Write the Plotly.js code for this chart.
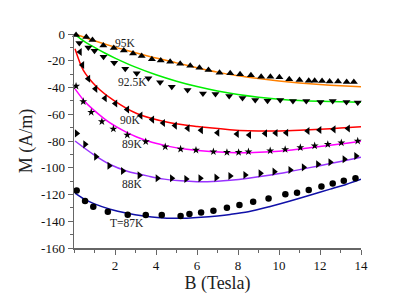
<!DOCTYPE html>
<html>
<head>
<meta charset="utf-8">
<script src="https://cdn.plot.ly/plotly-3.0.1.min.js"></script>
<style>html,body{margin:0;padding:0;background:#fff;}#chart{width:419px;height:298px;}</style>
</head>
<body>
<div id="chart"></div>
<script>
// ---- data ----
// 95 K
const x95 = [0.1,0.6,0.9,1.43,1.94,2.43,2.88,3.3,3.8,4.23,4.69,5.18,5.67,6.12,6.56,7.1,7.62,8.1,8.63,9.13,9.58,10.02,10.5,11.0,11.45,11.74,12.1,12.47,12.88,13.3,13.65];
const y95 = [-0.7,-2.3,-4.4,-8.6,-10.5,-12.4,-14.5,-16.5,-18.9,-19.9,-20.7,-22.2,-23.7,-25.2,-26.9,-28.9,-29.4,-30.1,-30.9,-31.9,-31.9,-32.4,-33.9,-34.4,-34.9,-34.9,-35.1,-35.6,-35.6,-35.9,-35.9];
const fx95 = [0.05,1,2,3,4,5,6,7,8,9,10,11,12,13,14];
const fy95 = [0,-5,-9.8,-14,-18,-21.6,-25.2,-28.5,-31.2,-33.3,-35.1,-36.6,-37.8,-38.7,-39.4];
// 92.5 K
const x925 = [0.26,0.7,1.0,1.44,1.96,2.5,3.06,3.63,4.2,4.77,5.54,6.29,6.9,7.57,8.22,8.84,9.44,10.06,10.68,11.33,12.02,12.62,13.29,13.84];
const y925 = [-6.8,-10.0,-12.5,-17.0,-21.5,-26.0,-29.4,-33.1,-36.0,-39.4,-41.9,-44.4,-44.9,-46.4,-47.9,-49.3,-49.9,-49.3,-50.1,-50.1,-50.8,-50.1,-50.8,-51.3];
const fx925 = [0.05,0.5,1,1.5,2,3,4,5,6,7,8,9,10,11,12,13,14];
const fy925 = [-0.5,-5.5,-10,-14.2,-18,-24.8,-30.5,-35.3,-39.3,-42.6,-45.2,-47.2,-48.7,-49.7,-50.3,-50.7,-51];
// 90 K
const x90 = [0.29,0.41,0.7,1.05,1.51,2.02,2.6,3.25,3.82,4.35,4.93,5.55,6.2,7.0,7.95,8.55,9.33,9.84,10.36,11.4,11.98,12.67,13.37];
const y90 = [-13.5,-23.2,-33.5,-41.0,-48.0,-52.0,-56.5,-61.0,-64.0,-66.5,-68.5,-70.5,-72.0,-73.8,-74.8,-75.5,-74.3,-74.0,-73.8,-72.5,-71.8,-71.3,-70.6];
const fx90 = [0.05,0.45,1.1,1.92,3.06,4.69,6.0,7.6,8.5,10,11,12,13,14];
const fy90 = [-11,-27,-39.4,-49.4,-59.4,-66.4,-69.2,-71.5,-72.3,-72.5,-72,-71.2,-70.3,-69.3];
// 89 K
const x89 = [0.1,0.45,0.84,1.36,1.92,2.6,3.5,4.45,5.2,5.95,6.8,7.46,8.03,8.51,9.57,10.3,11.04,11.74,12.38,13.04,13.84];
const y89 = [-39,-50.5,-58.5,-65.5,-71,-75.5,-80.5,-84.3,-86,-86.8,-88,-88.5,-88.5,-88,-87.3,-86.3,-84.9,-83.6,-82.5,-81.3,-80];
const fx89 = [0.05,0.5,0.94,1.76,2.5,3.06,3.8,4.69,5.5,6.64,7.6,8.5,9.57,10.5,11.5,12.5,13.3,14];
const fy89 = [-41,-50,-56.5,-66.5,-73,-77,-81,-84.2,-86.2,-87.9,-88.6,-88.7,-88.1,-86.9,-85.1,-83.2,-81.6,-80.1];
// 88 K
const x88 = [0.13,0.54,1.07,1.72,2.38,3.19,4.07,4.77,5.47,6.16,6.94,7.62,8.35,9.09,9.77,10.55,11.2,11.9,12.5,13.19,13.76];
const y88 = [-74.3,-82.5,-91.7,-98.5,-102.4,-105.7,-107.9,-107.9,-108.4,-107.9,-107.4,-106.2,-105.4,-104.2,-102.9,-101.7,-99.7,-97.4,-95.9,-93.7,-91.2];
const fx88 = [0.05,0.94,1.76,2.6,3.7,4.4,5.2,6,7,7.62,8.5,9.6,10.5,11.5,12.5,13.3,14];
const fy88 = [-80,-90,-97.6,-102.6,-106.5,-108.5,-109.8,-110.4,-110,-109.3,-107.8,-105.4,-102.9,-99.9,-96.9,-94.4,-92.2];
// 87 K
const x87 = [0.13,0.54,0.94,1.65,2.62,3.5,4.28,5.2,5.63,6.2,6.8,7.46,8.07,8.74,9.49,10.31,10.88,11.45,12.07,12.62,13.16,13.73];
const y87 = [-117,-124.9,-129.1,-132.9,-135.2,-135.4,-135.3,-136,-134.6,-133.4,-132.2,-129.9,-127.9,-125.4,-122.9,-119.9,-118.6,-116.6,-114.1,-111.7,-109.7,-107.9];
const fx87 = [0.05,0.5,1,1.76,2.6,3.4,4.2,4.85,5.5,6.2,7,7.62,8.5,9.57,10.5,11.5,12.5,13.3,14];
const fy87 = [-119,-123.5,-127,-131,-134,-136,-137.3,-137.8,-137.7,-137.1,-136,-134.9,-132.9,-128.9,-125,-120.5,-116,-112.3,-108.6];

const labels = ["95K","92.5K","90K","89K","88K","T=87K"];
const labelX = [2.49,2.85,2.74,2.87,2.87,2.57];
const labelY = [-7,-36,-64,-82.5,-112,-141.6];

const xTicks = [2,4,6,8,10,12,14];
const yTicks = [0,-20,-40,-60,-80,-100,-120,-140,-160];
const yTickText = ["0","-20","-40","-60","-80","-100","-120","-140","-160"];

// ---- styling ----
const serif = "Liberation Serif, Times New Roman, serif";
const sets = [
  {mx:x95, my:y95, fx:fx95, fy:fy95, sym:"triangle-up", size:7, col:"#ff8000"},
  {mx:x925, my:y925, fx:fx925, fy:fy925, sym:"triangle-down", size:7, col:"#00ee00"},
  {mx:x90, my:y90, fx:fx90, fy:fy90, sym:"triangle-left", size:7, col:"#ff0000"},
  {mx:x89, my:y89, fx:fx89, fy:fy89, sym:"star", size:6, col:"#ff00ff"},
  {mx:x88, my:y88, fx:fx88, fy:fy88, sym:"triangle-right", size:7, col:"#9933ff"},
  {mx:x87, my:y87, fx:fx87, fy:fy87, sym:"circle", size:6.5, col:"#1010a8"}
];
const traces = [];
sets.forEach(s => {
  traces.push({x:s.fx, y:s.fy, mode:"lines", line:{color:s.col, width:1.5, shape:"spline", smoothing:0.8}, hoverinfo:"skip", showlegend:false, cliponaxis:false});
});
sets.forEach(s => {
  traces.push({x:s.mx, y:s.my, mode:"markers", marker:{symbol:s.sym, size:s.size, color:"#000"}, showlegend:false, cliponaxis:false});
});

const annotations = labels.map((t,i) => ({
  x: labelX[i], y: labelY[i], xref:"x", yref:"y", text:t, showarrow:false,
  font:{family:serif, size:11.5, color:"#222"}
}));

const axisCommon = {
  showgrid:false, zeroline:false, showline:true, linecolor:"#666", linewidth:1.5,
  ticks:"outside", ticklen:5, tickwidth:1, tickcolor:"#666",
  tickfont:{family:serif, size:13, color:"#111"}
};

const layout = {
  width:419, height:298,
  margin:{l:74, r:58, t:34, b:50},
  paper_bgcolor:"#fff", plot_bgcolor:"#fff",
  showlegend:false,
  xaxis: Object.assign({}, axisCommon, {
    range:[0,14], tickvals:xTicks, ticktext:xTicks.map(String),
    minor:{ticks:"outside", ticklen:3, dtick:1, tick0:0, tickcolor:"#666"},
    title:{text:"B (Tesla)", font:{family:serif, size:18, color:"#222"}, standoff:4}
  }),
  yaxis: Object.assign({}, axisCommon, {
    range:[-160,0], tickvals:yTicks, ticktext:yTickText,
    minor:{ticks:"outside", ticklen:3, dtick:10, tick0:0, tickcolor:"#666"},
    title:{text:"M (A/m)", font:{family:serif, size:18, color:"#222"}, standoff:4}
  }),
  annotations: annotations
};

Plotly.newPlot("chart", traces, layout, {staticPlot:true, displayModeBar:false});
</script>
</body>
</html>
